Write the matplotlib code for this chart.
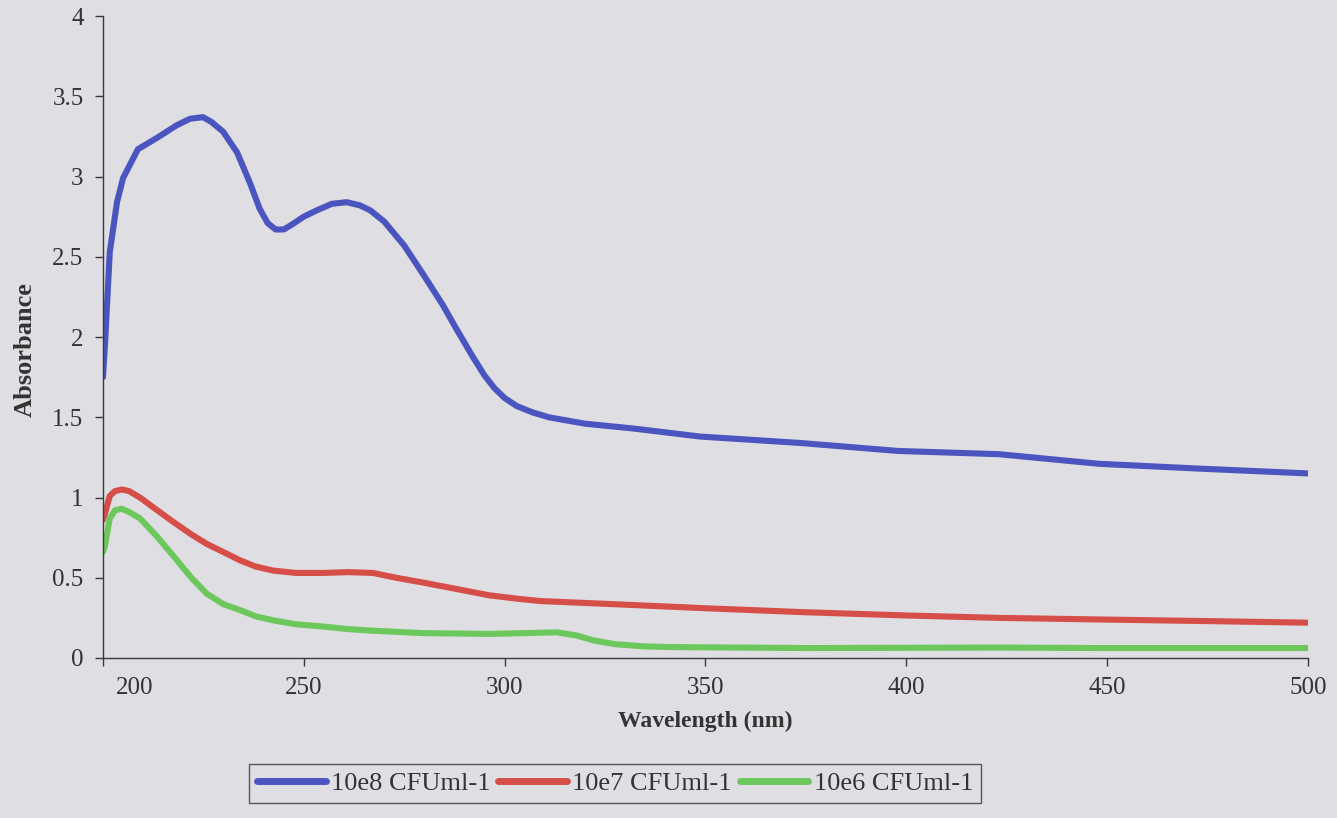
import matplotlib.pyplot as plt
from matplotlib.transforms import ScaledTranslation

# Wavelength (nm) / absorbance
wl_8 = [200, 200.5, 201.7, 203.5, 205, 208.7, 213.4, 218.4, 221.7, 224.9, 227, 229.9,
        233.4, 236.6, 239, 241, 243, 245, 247, 250, 253.3, 257, 260.7, 264, 266.5, 270,
        275, 280, 284.6, 288, 292, 295, 297.5, 300, 303, 307, 311, 320, 332, 348.6, 373.5,
        398, 423, 448, 473, 500]
abs_8 = [1.75, 1.95, 2.53, 2.84, 2.99, 3.17, 3.24, 3.32, 3.36, 3.37, 3.34, 3.28,
         3.15, 2.96, 2.80, 2.71, 2.67, 2.67, 2.70, 2.75, 2.79, 2.83, 2.84, 2.82, 2.79, 2.72,
         2.57, 2.38, 2.20, 2.05, 1.88, 1.76, 1.68, 1.62, 1.57, 1.53, 1.50, 1.46, 1.43, 1.38, 1.34,
         1.29, 1.27, 1.21, 1.18, 1.15]

wl_7 = [200, 200.5, 201.7, 203, 204.7, 206.5, 209.2, 213, 217.4, 222, 225.9, 230, 234,
        238, 242.3, 248, 254.8, 261, 267.2, 273, 279.7, 288, 296.3, 303, 308.8, 327.5,
        350, 375, 400, 423, 448, 475, 500]
abs_7 = [0.86, 0.90, 1.01, 1.04, 1.05, 1.04, 1.00, 0.93, 0.85, 0.77, 0.71, 0.66, 0.61,
         0.57, 0.545, 0.53, 0.53, 0.535, 0.53, 0.50, 0.47, 0.43, 0.39, 0.37, 0.355, 0.335,
         0.31, 0.285, 0.265, 0.25, 0.24, 0.23, 0.22]

wl_6 = [200, 200.5, 201.7, 203, 204.7, 206.5, 209.2, 213, 217.4, 222, 225.9, 230, 234,
        238, 242.3, 248, 254.8, 261, 267.2, 279.7, 296.3, 305, 313, 318, 322, 327.5,
        335, 341.6, 375, 423, 448, 475, 500]
abs_6 = [0.66, 0.70, 0.87, 0.92, 0.93, 0.91, 0.87, 0.77, 0.64, 0.50, 0.40, 0.335, 0.30,
         0.26, 0.235, 0.21, 0.196, 0.18, 0.17, 0.155, 0.15, 0.155, 0.16, 0.14, 0.11, 0.086,
         0.072, 0.068, 0.062, 0.065, 0.062, 0.062, 0.062]

names = ['10e8 CFUml-1', '10e7 CFUml-1', '10e6 CFUml-1']
colors = ['#4b55bf', '#d64e48', '#6cc85c']
x_ticks = [200, 250, 300, 350, 400, 450, 500]
y_ticks = [0, 0.5, 1, 1.5, 2, 2.5, 3, 3.5, 4]

bg = '#dfdee3'
plt.rcParams['font.family'] = ['Liberation Serif', 'DejaVu Serif']

fig = plt.figure(figsize=(13.37, 8.18), dpi=100, facecolor=bg)
ax = fig.add_axes([0.077, 0.1956, 0.9013, 0.7848], facecolor=bg)

for wl, ab, name, c in zip([wl_8, wl_7, wl_6], [abs_8, abs_7, abs_6], names, colors):
    ax.plot(wl, ab, color=c, lw=4.4, label=name, solid_capstyle='round',
            solid_joinstyle='round')

ax.set_xlim(200, 500)
ax.set_ylim(0, 4)
ax.set_xticks(x_ticks)
ax.set_yticks(y_ticks)
ax.set_yticklabels(['0', '0.5', '1', '1.5', '2', '2.5', '3', '3.5', '4'])
for s in ['top', 'right']:
    ax.spines[s].set_visible(False)
for s in ['left', 'bottom']:
    ax.spines[s].set_color('#3a3a3a')
    ax.spines[s].set_linewidth(1.0)
ax.tick_params(direction='out', length=6, width=1, color='#3a3a3a',
               labelsize=18, labelcolor='#333333', pad=8)

# the "200" label sits to the right of its tick in the original
first = ax.xaxis.get_major_ticks()[0]
first.label1.set_transform(first.label1.get_transform() +
                           ScaledTranslation(0.32, 0, fig.dpi_scale_trans))

ax.set_xlabel('Wavelength (nm)', fontsize=17, fontweight='bold', color='#333333')
ax.xaxis.set_label_coords(0.5, -0.082)
ax.set_ylabel('Absorbance', fontsize=19, fontweight='bold', color='#333333')
ax.yaxis.set_label_coords(-0.055, 0.48)

leg = fig.legend(loc='center', bbox_to_anchor=(0.46, 0.042), ncol=3, fontsize=19,
                 frameon=True, fancybox=False, edgecolor='#333333', facecolor=bg,
                 handlelength=2.6, handletextpad=0.2, columnspacing=0.3,
                 borderpad=0.3, borderaxespad=0)
leg.get_frame().set_linewidth(1.0)
for h in leg.get_lines():
    h.set_linewidth(5)
for t in leg.get_texts():
    t.set_color('#333333')

plt.savefig('out.png', dpi=100, facecolor=bg)
